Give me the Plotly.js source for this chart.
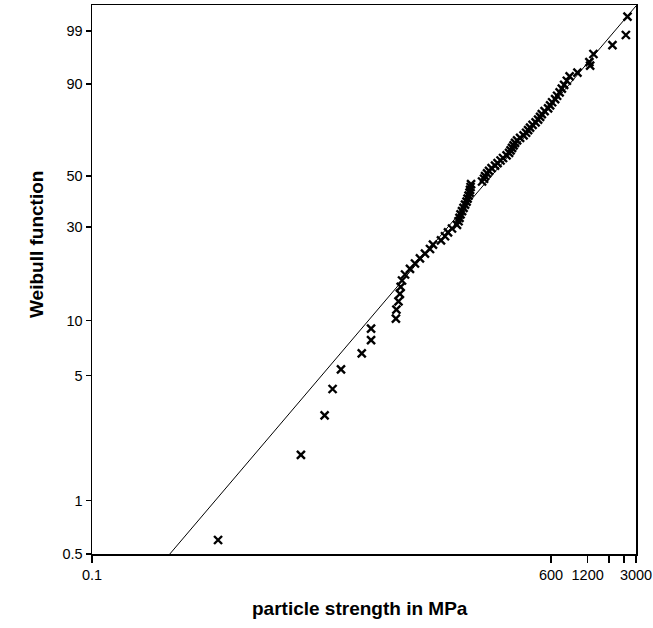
<!DOCTYPE html>
<html>
<head>
<meta charset="utf-8">
<script src="https://cdn.plot.ly/plotly-3.0.1.min.js"></script>
<style>
  html, body { margin: 0; padding: 0; background: #fff; }
  #chart { width: 653px; height: 628px; }
</style>
</head>
<body>
<div id="chart"></div>
<script>
// Particle strength (MPa) of each tested particle
const strengthMPa = [
  1.09, 5.24, 8.21, 9.55, 11.2, 16.6, 19.8, 19.8, 31.7, 32.0,
  33.3, 34.2, 34.7, 35.6, 37.7, 41.4, 45.5, 50.0, 55.0, 60.5,
  64.0, 74.5, 80.4, 85.1, 91.8, 100.9, 103.9, 105.8, 107.9, 111.0,
  114.2, 117.5, 120.9, 123.2, 125.6, 128.0, 129.2, 130.5, 131.7, 162.2,
  168.5, 171.7, 178.3, 185.2, 194.2, 207.5, 217.6, 230.3, 241.5, 258.2,
  270.7, 278.5, 286.5, 294.8, 303.3, 315.1, 333.6, 356.4, 373.7, 388.2,
  403.1, 422.7, 447.5, 469.3, 487.4, 503.3, 530.8, 567.2, 589.2, 612.0,
  647.8, 672.8, 705.5, 735.7, 768.5, 808.9, 852.9, 988.8, 1258, 1240,
  1339, 1920, 2476, 2553
];
// Failure probability (%) of each point
const failurePct = [
  0.60, 1.81, 3.01, 4.22, 5.42, 6.63, 7.83, 9.04, 10.24, 11.45,
  12.65, 13.86, 15.06, 16.27, 17.47, 18.67, 19.88, 21.08, 22.29, 23.49,
  24.70, 25.90, 27.11, 28.31, 29.52, 30.72, 31.93, 33.13, 34.34, 35.54,
  36.75, 37.95, 39.16, 40.36, 41.57, 42.77, 43.98, 45.18, 46.39, 47.59,
  48.80, 50.00, 51.20, 52.41, 53.61, 54.82, 56.02, 57.23, 58.43, 59.64,
  60.84, 62.05, 63.25, 64.46, 65.66, 66.87, 68.07, 69.28, 70.48, 71.69,
  72.89, 74.10, 75.30, 76.51, 77.71, 78.92, 80.12, 81.33, 82.53, 83.73,
  84.94, 86.14, 87.35, 88.55, 89.76, 90.96, 92.17, 93.07, 94.63, 95.32,
  96.69, 97.83, 98.73, 99.61
];
// Fitted Weibull line (end points)
const fitStrengthMPa = [0.437, 3000];
const fitPct = [0.5, 99.83];

// Axis ticks
const xTickVals = [0.1, 600, 1200, 1800, 2400, 3000];
const xTickText = ["0.1", "600", "1200", "", "", "3000"];
const yTickPct = [0.5, 1, 5, 10, 30, 50, 90, 99];
const yTopPct = 99.843;

// Weibull probability transform: ln(-ln(1-F))
function weibull(pct) { return Math.log(-Math.log(1 - pct / 100)); }

const font = "'Liberation Sans', Arial, Helvetica, sans-serif";

const traces = [
  {
    x: fitStrengthMPa,
    y: fitPct.map(weibull),
    mode: 'lines',
    line: { color: '#000', width: 1 },
    hoverinfo: 'skip',
    showlegend: false
  },
  {
    x: strengthMPa,
    y: failurePct.map(weibull),
    mode: 'markers',
    marker: { symbol: 'x-thin', size: 8, color: '#000', line: { color: '#000', width: 2.4 } },
    cliponaxis: false,
    showlegend: false
  }
];

const layout = {
  width: 653,
  height: 628,
  margin: { l: 92, r: 17, t: 5, b: 74 },
  paper_bgcolor: '#fff',
  plot_bgcolor: '#fff',
  font: { family: font, color: '#000', size: 14 },
  showlegend: false,
  xaxis: {
    type: 'log',
    range: [Math.log10(0.1), Math.log10(3000)],
    tickmode: 'array',
    tickvals: xTickVals,
    ticktext: xTickText,
    ticks: 'outside',
    ticklen: 7,
    tickwidth: 1.5,
    tickcolor: '#000',
    showgrid: false,
    zeroline: false,
    showline: true,
    linecolor: '#000',
    linewidth: 1.5,
    mirror: true,
    tickfont: { family: font, size: 14.5, color: '#000' }
  },
  yaxis: {
    range: [weibull(0.5), weibull(yTopPct)],
    tickmode: 'array',
    tickvals: yTickPct.map(weibull),
    ticktext: yTickPct.map(String),
    ticks: 'outside',
    ticklen: 5,
    tickwidth: 1.5,
    tickcolor: '#000',
    showgrid: false,
    zeroline: false,
    showline: true,
    linecolor: '#000',
    linewidth: 1.5,
    mirror: true,
    tickfont: { family: font, size: 14.5, color: '#000' }
  },
  annotations: [
    {
      text: '<b>particle strength in MPa</b>',
      xref: 'paper', yref: 'paper',
      x: 0.4926, y: -0.100,
      xanchor: 'center', yanchor: 'middle',
      showarrow: false,
      font: { family: font, size: 19, color: '#000' }
    },
    {
      text: '<b>Weibull function</b>',
      xref: 'paper', yref: 'paper',
      x: -0.101, y: 0.563,
      xanchor: 'center', yanchor: 'middle',
      textangle: -90,
      showarrow: false,
      font: { family: font, size: 19, color: '#000' }
    }
  ]
};

Plotly.newPlot('chart', traces, layout, { displayModeBar: false, staticPlot: true });
</script>
</body>
</html>
